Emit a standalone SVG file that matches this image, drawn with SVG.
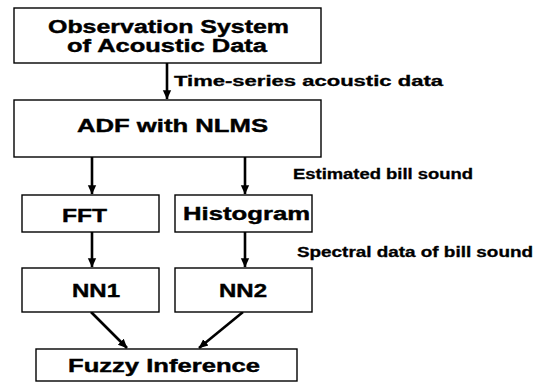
<svg xmlns="http://www.w3.org/2000/svg" width="539" height="385" viewBox="0 0 539 385">
  <style>
    .box { fill: #fff; stroke: #000; stroke-width: 1.4; }
    .lbl { font-family: "Liberation Sans", Arial, sans-serif; font-weight: bold; font-size: 18px; fill: #000; stroke: #000; stroke-width: 0.4; }
    .edge { font-family: "Liberation Sans", Arial, sans-serif; font-weight: bold; font-size: 14px; fill: #000; stroke: #000; stroke-width: 0.3; }
    .arrow { stroke: #000; stroke-width: 2.6; fill: none; marker-end: url(#head); }
  </style>
  <defs>
    <marker id="head" markerWidth="4" markerHeight="4" refX="3.4" refY="2" orient="auto" markerUnits="strokeWidth">
      <path d="M0,0.4 L3.6,2 L0,3.6 Z" fill="#000"/>
    </marker>
  </defs>
  <rect width="539" height="385" fill="#fff"/>

  <g id="connectors">
    <line class="arrow" x1="167" y1="63" x2="167" y2="99"/>
    <line class="arrow" x1="92" y1="157" x2="92" y2="194"/>
    <line class="arrow" x1="245" y1="157" x2="245" y2="194"/>
    <line class="arrow" x1="92" y1="232" x2="92" y2="267"/>
    <line class="arrow" x1="245" y1="232" x2="245" y2="267"/>
    <line class="arrow" x1="91" y1="312" x2="127" y2="348"/>
    <line class="arrow" x1="243" y1="312" x2="199" y2="348"/>
    <text class="edge" x="174" y="86" textLength="269" lengthAdjust="spacingAndGlyphs">Time-series acoustic data</text>
    <text class="edge" x="293" y="179" textLength="180" lengthAdjust="spacingAndGlyphs">Estimated bill sound</text>
    <text class="edge" x="297" y="257" textLength="236" lengthAdjust="spacingAndGlyphs">Spectral data of bill sound</text>
  </g>

  <g id="observation">
    <rect class="box" x="14" y="8" width="307" height="55"/>
    <text class="lbl" x="48" y="33" textLength="241" lengthAdjust="spacingAndGlyphs">Observation System</text>
    <text class="lbl" x="67" y="52" textLength="200" lengthAdjust="spacingAndGlyphs">of Acoustic Data</text>
  </g>

  <g id="adf">
    <rect class="box" x="14" y="100" width="307" height="57"/>
    <text class="lbl" x="77" y="132" textLength="191" lengthAdjust="spacingAndGlyphs">ADF with NLMS</text>
  </g>

  <g id="fft">
    <rect class="box" x="22" y="195" width="137" height="37"/>
    <text class="lbl" x="62" y="222" textLength="45" lengthAdjust="spacingAndGlyphs">FFT</text>
  </g>

  <g id="histogram">
    <rect class="box" x="175" y="195" width="137" height="37"/>
    <text class="lbl" x="183" y="220" textLength="127" lengthAdjust="spacingAndGlyphs">Histogram</text>
  </g>

  <g id="nn1">
    <rect class="box" x="22" y="268" width="137" height="44"/>
    <text class="lbl" x="72" y="297" textLength="48" lengthAdjust="spacingAndGlyphs">NN1</text>
  </g>

  <g id="nn2">
    <rect class="box" x="175" y="268" width="137" height="44"/>
    <text class="lbl" x="219" y="297" textLength="48" lengthAdjust="spacingAndGlyphs">NN2</text>
  </g>

  <g id="fuzzy">
    <rect class="box" x="36" y="349" width="261" height="32"/>
    <text class="lbl" x="68" y="372" textLength="192" lengthAdjust="spacingAndGlyphs">Fuzzy Inference</text>
  </g>
</svg>
